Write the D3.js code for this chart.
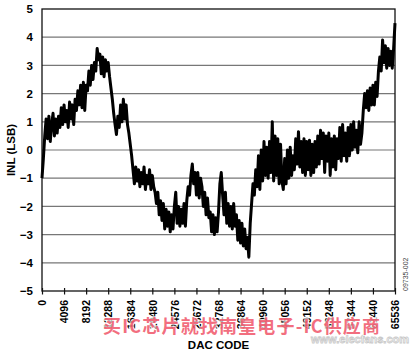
<!DOCTYPE html>
<html>
<head>
<meta charset="utf-8">
<script src="https://cdn.jsdelivr.net/npm/d3@7"></script>
<style>
  body { margin: 0; background: #fff; }
  svg { display: block; }
</style>
</head>
<body>
<svg id="chart"></svg>
<script>
// sampling grid of the DAC codes (every 256 codes)
const dacCodes = d3.range(0, 65537, 256)
// INL in LSB at each code of the grid
const inlValues = [
  -1.0, -0.3, 0.5, 1.1, 0.4, 1.2, 0.3, 0.9,
  1.3, 0.5, 1.1, 0.6, 1.2, 0.8, 1.5, 0.9,
  1.6, 1.0, 1.4, 0.8, 1.7, 1.1, 1.6, 0.9,
  1.8, 1.4, 2.1, 1.6, 2.3, 1.5, 2.4, 1.4,
  2.3, 2.1, 2.8, 2.3, 3.0, 2.5, 3.1, 2.8,
  3.6, 3.2, 3.4, 2.7, 3.3, 2.6, 3.2, 2.8,
  3.1, 2.6, 2.2, 1.8, 1.3, 0.9, 0.55, 1.2,
  0.8, 1.6, 1.0, 1.8, 1.1, 1.6, 0.9, 0.6,
  0.2, -0.2, -0.7, -1.2, -0.6, -1.1, -0.7, -1.3,
  -0.8, -1.2, -0.6, -1.4, -0.9, -1.2, -0.7, -1.4,
  -0.9, -1.3, -1.5, -1.9, -1.5, -2.3, -1.8, -2.5,
  -1.9, -2.8, -2.1, -2.7, -2.2, -2.9, -2.3, -2.8,
  -2.0, -1.5, -2.6, -2.0, -2.7, -2.1, -2.6, -1.9,
  -2.7, -1.8, -1.3, -1.6, -0.9, -0.5, -1.2, -0.8,
  -1.6, -0.8, -1.7, -1.0, -1.3, -2.0, -1.5, -2.3,
  -1.7, -2.4, -2.2, -2.9, -2.3, -3.0, -2.4, -2.9,
  -2.2, -1.2, -0.8, -1.6, -2.3, -1.5, -2.6, -1.9,
  -2.7, -2.0, -2.8, -1.9, -2.7, -2.3, -3.2, -2.5,
  -3.3, -2.6, -3.4, -2.8, -3.5, -3.1, -3.8, -2.6,
  -1.9, -1.2, -1.6, -0.7, -1.3, -0.2, -1.4, 0.0,
  -1.1, 0.3, -0.9, 0.1, -1.0, 0.3, -0.8, 1.0,
  -1.1, 0.5, -0.9, 0.4, -1.2, 0.2, -1.1, -1.4,
  -0.3, -1.2, 0.0, -1.0, 0.1, -0.9, -0.2, -0.7,
  0.4, -0.5, 0.65, -0.6, 0.3, -0.8, 0.4, -0.9,
  0.3, -0.7, 0.35, -0.9, 0.2, -0.8, 0.3, -0.6,
  0.5, -0.5, 0.7, -0.3, 0.6, -0.8, 0.5, -0.4,
  0.6, -0.9, 0.4, -0.6, 0.5, -0.7, 0.4, -0.3,
  0.8, -0.4, 0.9, -0.2, 0.6, -0.4, 0.8, -0.2,
  0.9, 0.0, 1.0, 0.1, 0.7, -0.1, 1.0, 0.2,
  0.6, 1.4, 2.0, 1.5, 2.1, 1.4, 2.2, 1.6,
  2.3, 1.6, 2.4, 1.9, 2.8, 3.3, 2.8, 3.9,
  3.1, 3.7, 2.9, 3.6, 3.0, 3.5, 2.9, 3.6,
  4.5
]
const xTicks = d3.range(0, 65537, 4096)
const yTicks = [-5, -4, -3, -2, -1, 0, 1, 2, 3, 4, 5]

const width = 415
const height = 355
const margin = {top: 9, right: 20, bottom: 64, left: 42}

const svg = d3.select('#chart')
  .attr('width', width)
  .attr('height', height)
  .style('font-family', 'Arial, "Liberation Sans", sans-serif')

const x = d3.scaleLinear().domain([0, 65536]).range([margin.left, width - margin.right])
const y = d3.scaleLinear().domain([-5, 5]).range([height - margin.bottom, margin.top])

// grid lines
svg.append('g')
  .selectAll('line')
  .data(yTicks.slice(1, -1))
  .join('line')
    .attr('x1', x(0))
    .attr('x2', x(65536))
    .attr('y1', d => y(d))
    .attr('y2', d => y(d))
    .attr('stroke', '#777')
    .attr('stroke-width', 1.2)

// frame
svg.append('rect')
  .attr('x', x(0))
  .attr('y', y(5))
  .attr('width', x(65536) - x(0))
  .attr('height', y(-5) - y(5))
  .attr('fill', 'none')
  .attr('stroke', '#111')
  .attr('stroke-width', 1.3)

// y labels
svg.append('g')
  .selectAll('text')
  .data(yTicks)
  .join('text')
    .attr('x', 33)
    .attr('y', d => y(d))
    .attr('dy', '0.36em')
    .attr('text-anchor', 'end')
    .attr('font-size', 11.5)
    .attr('font-weight', 'bold')
    .text(d => d < 0 ? '\u2212' + Math.abs(d) : d)

// x axis ticks & labels
const xAxis = svg.append('g')
  .attr('transform', `translate(0,${y(-5)})`)
  .call(d3.axisBottom(x).tickValues(xTicks).tickSize(3).tickFormat(d3.format('d')))
xAxis.select('.domain').remove()
xAxis.selectAll('.tick line')
  .attr('y1', -3)
  .attr('y2', 3.5)
  .attr('stroke', '#111')
  .attr('stroke-width', 1.2)
xAxis.selectAll('.tick text')
  .attr('transform', 'rotate(-90)')
  .attr('x', -9)
  .attr('y', 0)
  .attr('dy', '0.36em')
  .attr('text-anchor', 'end')
  .attr('font-size', 10.5)
  .attr('font-weight', 'bold')
  .attr('font-family', 'Arial, "Liberation Sans", sans-serif')
  .attr('fill', '#000')

// INL curve
const line = d3.line()
  .x((d, i) => x(dacCodes[i]))
  .y(d => y(d))
svg.append('path')
  .datum(inlValues)
  .attr('d', line)
  .attr('fill', 'none')
  .attr('stroke', '#000')
  .attr('stroke-width', 3)
  .attr('stroke-linejoin', 'round')

// axis titles
svg.append('text')
  .attr('transform', `translate(15,${y(0)}) rotate(-90)`)
  .attr('text-anchor', 'middle')
  .attr('font-size', 11.5)
  .attr('font-weight', 'bold')
  .text('INL (LSB)')

svg.append('text')
  .attr('x', (x(0) + x(65536)) / 2)
  .attr('y', 349)
  .attr('text-anchor', 'middle')
  .attr('font-size', 11.5)
  .attr('font-weight', 'bold')
  .text('DAC CODE')

svg.append('text')
  .attr('transform', 'translate(407.5,291) rotate(-90)')
  .attr('font-size', 7)
  .attr('fill', '#444')
  .text('09735-002')

// watermark
svg.append('text')
  .attr('x', 311)
  .attr('y', 343)
  .attr('font-size', 11)
  .attr('font-weight', 'bold')
  .attr('fill', '#fff')
  .attr('stroke', '#c8c8c8')
  .attr('stroke-width', 0.8)
  .text('www.elecfans.com')

svg.append('text')
  .attr('x', 103)
  .attr('y', 333)
  .attr('font-size', 18)
  .attr('font-weight', 'bold')
  .attr('font-family', '"Noto Sans CJK SC", sans-serif')
  .attr('textLength', 277)
  .attr('lengthAdjust', 'spacing')
  .attr('fill', '#f05468')
  .attr('fill-opacity', 0.85)
  .attr('stroke', '#fff')
  .attr('stroke-width', 2)
  .attr('stroke-opacity', 0.7)
  .attr('paint-order', 'stroke')
  .text('买IC芯片就找南皇电子-IC供应商')
</script>
</body>
</html>
